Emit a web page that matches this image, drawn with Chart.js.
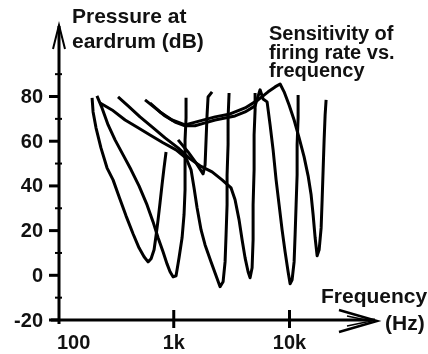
<!DOCTYPE html>
<html>
<head>
<meta charset="utf-8">
<script src="https://cdn.jsdelivr.net/npm/chart.js@4/dist/chart.umd.min.js"></script>
<style>
  html, body { margin: 0; padding: 0; background: #fff; }
  #wrap { width: 428px; height: 354px; }
</style>
</head>
<body>
<div id="wrap"><canvas id="tuning" width="428" height="354"></canvas></div>
<script>
// Tuning curves: threshold pressure at eardrum vs. tone frequency, one curve per fibre

const X_MIN = 100;
const X_MAX = 57000;
const Y_MIN = -20;
const Y_MAX = 112;

const yTicks = [80, 60, 40, 20, 0, -20];
const yMinorTicks = [90, 70, 50, 30, 10, -10];
const xTicks = [100, 1000, 10000];
const xTickLabels = ['100', '1k', '10k'];

// fibre 1, best frequency ~600 Hz
const fiber1Hz = [197, 201, 213, 235, 265, 299, 337, 387, 445, 501, 554, 600, 637, 676, 703, 732, 761, 792, 824, 858];
const fiber1Db = [79.4, 73.1, 66.0, 57.0, 48.1, 42.7, 35.1, 26.6, 18.6, 12.3, 8.3, 6.0, 7.4, 11.4, 17.7, 24.8, 32.4, 40.5, 48.1, 55.2];

// fibre 2, ~1 kHz
const fiber2Hz = [217, 240, 271, 311, 365, 428, 501, 588, 663, 732, 808, 875, 929, 986, 1047, 1111, 1180, 1227, 1252, 1252, 1252, 1277, 1277];
const fiber2Db = [80.3, 74.9, 67.3, 60.6, 53.9, 47.2, 40.0, 31.5, 23.9, 16.8, 10.5, 5.1, 1.6, -0.7, -0.2, 7.8, 16.8, 27.1, 38.2, 49.4, 60.6, 70.4, 79.4];

// fibre 3, ~2.5 kHz
const fiber3Hz = [231, 293, 380, 492, 624, 808, 1047, 1277, 1411, 1498, 1590, 1722, 1865, 2101, 2321, 2513, 2668, 2776, 2831, 2888, 2888, 2946, 2946, 3006];
const fiber3Db = [77.1, 74.0, 69.5, 66.0, 62.8, 59.3, 56.1, 52.5, 47.2, 39.1, 30.2, 20.3, 13.6, 6.0, -0.2, -5.1, -2.9, 6.0, 18.1, 31.5, 44.9, 58.4, 70.4, 81.6];

// fibre 4, ~4.5 kHz
const fiber4Hz = [330, 403, 511, 649, 841, 1090, 1383, 1688, 2143, 2615, 3128, 3386, 3667, 3894, 4133, 4387, 4565, 4752, 4847, 4847, 4944, 4944, 5044, 5044];
const fiber4Db = [79.8, 75.8, 70.9, 66.4, 61.5, 57.0, 52.1, 49.0, 46.3, 42.7, 39.1, 33.8, 24.8, 15.9, 7.8, 1.6, -1.1, 3.4, 15.9, 31.5, 47.2, 62.8, 74.0, 81.6];

// fibre 5, ~10 kHz
const fiber5Hz = [565, 689, 841, 1026, 1252, 1528, 1865, 2275, 2776, 3386, 4133, 5044, 5570, 5913, 6404, 6797, 7216, 7660, 8131, 8630, 9162, 9725, 10120, 10531, 10960, 11178, 11402, 11633, 11633, 11865, 11865];
const fiber5Db = [78.5, 74.9, 71.3, 68.6, 66.9, 66.9, 68.2, 69.5, 70.4, 71.3, 73.1, 75.8, 83.0, 78.9, 77.6, 67.3, 56.1, 42.7, 31.5, 20.3, 10.5, 1.6, -3.8, -2.0, 6.0, 18.1, 31.5, 44.9, 58.4, 70.4, 80.7];

// fibre 6, ~17 kHz
const fiber6Hz = [624, 761, 967, 1252, 1688, 2275, 3066, 4133, 5353, 6534, 7508, 8297, 8981, 9920, 10960, 12106, 13370, 14480, 15370, 15995, 16650, 17330, 18030, 18760, 19140, 19520, 19910, 20310, 20710];
const fiber6Db = [77.1, 73.1, 69.5, 67.3, 69.1, 70.9, 72.2, 74.9, 78.5, 82.1, 84.3, 85.6, 82.1, 76.2, 69.5, 61.5, 53.0, 44.5, 36.0, 27.1, 16.8, 8.7, 11.4, 21.2, 33.8, 47.2, 60.6, 71.8, 78.5];

// fibre 7, high threshold ~1.9 kHz
const fiber7Hz = [1090, 1329, 1558, 1792, 1865, 1902, 1940, 1979, 2143];
const fiber7Db = [60.6, 55.2, 50.3, 45.4, 49.4, 60.6, 71.8, 79.8, 82.1];

const fibers = [
  [fiber1Hz, fiber1Db], [fiber2Hz, fiber2Db], [fiber3Hz, fiber3Db], [fiber4Hz, fiber4Db],
  [fiber5Hz, fiber5Db], [fiber6Hz, fiber6Db], [fiber7Hz, fiber7Db],
];

const FONT = '"Liberation Sans", Arial, Helvetica, sans-serif';

// axes with arrowheads, ticks and all the text, drawn off the chart's scales
const axesPlugin = {
  id: 'arrowAxes',
  afterDraw(chart) {
    const { ctx, chartArea, scales: { x, y } } = chart;
    const ax = x.getPixelForValue(X_MIN) + 1;
    const by = y.getPixelForValue(Y_MIN);
    const top = chartArea.top;
    const right = chartArea.right;

    ctx.save();
    ctx.strokeStyle = '#000';
    ctx.fillStyle = '#111';
    ctx.lineCap = 'butt';

    // y axis + arrow
    ctx.lineWidth = 3;
    ctx.beginPath(); ctx.moveTo(ax, by + 4); ctx.lineTo(ax, top + 1); ctx.stroke();
    ctx.lineWidth = 2;
    ctx.beginPath(); ctx.moveTo(ax - 6, top + 24); ctx.lineTo(ax, top); ctx.lineTo(ax + 6, top + 24); ctx.stroke();

    // x axis + arrow
    ctx.lineWidth = 3;
    ctx.beginPath(); ctx.moveTo(ax - 8, by); ctx.lineTo(right - 2, by); ctx.stroke();
    ctx.lineWidth = 2.5;
    ctx.beginPath(); ctx.moveTo(right - 38, by - 10); ctx.lineTo(right, by + 1); ctx.lineTo(right - 38, by + 12); ctx.stroke();
    ctx.lineWidth = 1.5;
    ctx.beginPath(); ctx.moveTo(right - 30, by - 4); ctx.lineTo(right - 6, by + 1); ctx.lineTo(right - 30, by + 6); ctx.stroke();

    // y ticks
    ctx.lineWidth = 3;
    yTicks.forEach(v => {
      const py = y.getPixelForValue(v);
      ctx.beginPath(); ctx.moveTo(ax - 10, py); ctx.lineTo(ax, py); ctx.stroke();
    });
    ctx.lineWidth = 2;
    yMinorTicks.forEach(v => {
      const py = y.getPixelForValue(v);
      ctx.beginPath(); ctx.moveTo(ax - 4, py); ctx.lineTo(ax + 3, py); ctx.stroke();
    });

    // x ticks
    ctx.lineWidth = 3;
    xTicks.slice(1).forEach(v => {
      const px = x.getPixelForValue(v);
      ctx.beginPath(); ctx.moveTo(px, by - 10); ctx.lineTo(px, by + 8); ctx.stroke();
    });

    // tick labels
    ctx.font = 'bold 20px ' + FONT;
    ctx.textAlign = 'right';
    ctx.textBaseline = 'middle';
    yTicks.forEach(v => ctx.fillText(String(v), 43, y.getPixelForValue(v) + 1));

    ctx.textBaseline = 'alphabetic';
    xTicks.forEach((v, i) => {
      const px = x.getPixelForValue(v);
      ctx.textAlign = i === 0 ? 'left' : 'center';
      ctx.fillText(xTickLabels[i], i === 0 ? px - 1 : px, 349);
    });

    // titles
    ctx.textAlign = 'left';
    ctx.font = 'bold 21px ' + FONT;
    ctx.fillText('Pressure at', 72, 23);
    ctx.fillText('eardrum (dB)', 72, 48);
    ctx.fillText('Frequency', 321, 303);
    ctx.fillText('(Hz)', 385, 330);
    ctx.font = 'bold 20px ' + FONT;
    ctx.fillText('Sensitivity of', 269, 40);
    ctx.fillText('firing rate vs.', 269, 59);
    ctx.fillText('frequency', 269, 77);
    ctx.restore();
  }
};

new Chart(document.getElementById('tuning'), {
  type: 'scatter',
  data: {
    datasets: fibers.map(([hz, db]) => ({
      data: hz.map((f, i) => ({ x: f, y: db[i] })),
      showLine: true,
      borderColor: '#000',
      borderWidth: 3,
      borderJoinStyle: 'round',
      pointRadius: 0,
      tension: 0,
      fill: false,
    })),
  },
  options: {
    responsive: false,
    animation: false,
    layout: { padding: { left: 58, right: 51, top: 25, bottom: 34 } },
    plugins: { legend: { display: false }, tooltip: { enabled: false } },
    scales: {
      x: { type: 'logarithmic', min: X_MIN, max: X_MAX, display: false },
      y: { type: 'linear', min: Y_MIN, max: Y_MAX, display: false },
    },
  },
  plugins: [axesPlugin],
});
</script>
</body>
</html>
